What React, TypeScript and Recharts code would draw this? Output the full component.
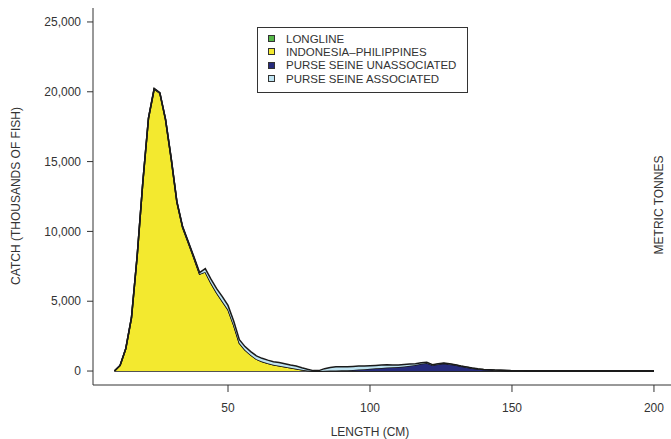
import { Area, AreaChart, Label, XAxis, YAxis } from 'recharts';

// length bins (cm)
const lengths = [
  10, 12, 14, 16, 18, 20, 22, 24, 26, 28,
  30, 32, 34, 36, 38, 40, 42, 44, 46, 48,
  50, 52, 54, 56, 58, 60, 62, 64, 66, 68,
  70, 72, 74, 76, 78, 80, 82, 84, 86, 88,
  90, 92, 94, 96, 98, 100, 102, 104, 106, 108,
  110, 112, 114, 116, 118, 120, 122, 124, 126, 128,
  130, 132, 134, 136, 138, 140, 142, 144, 146, 148,
  150, 152, 154, 156, 158, 160, 162, 164, 166, 168,
  170, 172, 174, 176, 178, 180, 182, 184, 186, 188,
  190, 192, 194, 196, 198, 200,
];

// catch in thousands of fish
const longline = [
  0, 0, 0, 0, 0, 0, 0, 0, 0, 0,
  0, 0, 0, 0, 0, 0, 0, 0, 0, 0,
  0, 0, 0, 0, 0, 0, 0, 0, 0, 0,
  0, 0, 0, 0, 0, 0, 0, 0, 0, 0,
  2, 2, 3, 3, 3, 4, 4, 5, 5, 5,
  6, 6, 6, 7, 7, 7, 8, 8, 8, 8,
  8, 8, 8, 7, 7, 6, 6, 5, 5, 5,
  4, 4, 4, 3, 3, 3, 2, 2, 2, 2,
  2, 1, 1, 1, 1, 1, 1, 0, 0, 0,
  0, 0, 0, 0, 0, 0,
];

const indoPhil = [
  0, 400, 1600, 3800, 8200, 13500, 18100, 20200, 19900, 18000,
  15200, 12100, 10300, 9200, 8100, 6950, 7100, 6300, 5600, 5000,
  4400, 3300, 2000, 1500, 1150, 850, 680, 550, 450, 380,
  300, 230, 160, 90, 30, 0, 0, 0, 0, 0,
  0, 0, 0, 0, 0, 0, 0, 0, 0, 0,
  0, 0, 0, 0, 0, 0, 0, 0, 0, 0,
  0, 0, 0, 0, 0, 0, 0, 0, 0, 0,
  0, 0, 0, 0, 0, 0, 0, 0, 0, 0,
  0, 0, 0, 0, 0, 0, 0, 0, 0, 0,
  0, 0, 0, 0, 0, 0,
];

const psUnassoc = [
  0, 0, 0, 0, 0, 0, 0, 0, 0, 0,
  0, 0, 0, 0, 0, 0, 0, 0, 0, 0,
  0, 0, 0, 0, 0, 0, 0, 0, 0, 0,
  0, 0, 0, 0, 0, 0, 10, 20, 30, 40,
  50, 60, 80, 100, 130, 160, 190, 220, 250, 260,
  280, 320, 370, 430, 520, 570, 410, 480, 530, 480,
  420, 340, 270, 190, 130, 100, 80, 60, 50, 30,
  20, 15, 10, 8, 5, 4, 3, 2, 2, 1,
  1, 1, 0, 0, 0, 0, 0, 0, 0, 0,
  0, 0, 0, 0, 0, 0,
];

const psAssoc = [
  0, 0, 10, 20, 30, 40, 40, 40, 40, 40,
  50, 50, 60, 70, 80, 100, 240, 280, 300, 330,
  300, 280, 250, 250, 240, 240, 230, 230, 220, 230,
  220, 200, 200, 150, 100, 30, 20, 150, 230, 260,
  260, 250, 250, 250, 230, 220, 210, 200, 190, 170,
  150, 140, 120, 90, 60, 50, 40, 40, 30, 30,
  30, 20, 20, 20, 20, 10, 10, 10, 10, 5,
  5, 0, 0, 0, 0, 0, 0, 0, 0, 0,
  0, 0, 0, 0, 0, 0, 0, 0, 0, 0,
  0, 0, 0, 0, 0, 0,
];

const xTicks = [50, 100, 150, 200];
const yTicks = [0, 5000, 10000, 15000, 20000, 25000];

const series = [
  { key: 'longline', label: 'LONGLINE', color: '#55b848' },
  { key: 'indoPhil', label: 'INDONESIA\u2013PHILIPPINES', color: '#f3e92f' },
  { key: 'psUnassoc', label: 'PURSE SEINE UNASSOCIATED', color: '#262b7c' },
  { key: 'psAssoc', label: 'PURSE SEINE ASSOCIATED', color: '#bfe4f2' },
];

const data = lengths.map((len, i) => ({
  len,
  longline: longline[i],
  indoPhil: indoPhil[i],
  psUnassoc: psUnassoc[i],
  psAssoc: psAssoc[i],
}));

const FONT = '"Liberation Sans", Arial, Helvetica, sans-serif';
const INK = '#333';

export default function App() {
  return (
    <div
      style={{
        position: 'absolute',
        left: 0,
        top: 0,
        width: 671,
        height: 439,
        background: '#fff',
        fontFamily: FONT,
      }}
    >
      <AreaChart
        width={671}
        height={439}
        data={data}
        margin={{ top: 8, right: 0, bottom: 0, left: 0 }}
      >
        <XAxis
          type="number"
          dataKey="len"
          domain={[2.46, 206]}
          ticks={xTicks}
          allowDataOverflow
          height={54}
          tickSize={7}
          tickMargin={11}
          stroke={INK}
          tick={{ fontSize: 12, fill: INK, fontFamily: FONT }}
        >
          <Label
            content={() => (
              <text
                x={370}
                y={436}
                textAnchor="middle"
                fontSize={12}
                fill={INK}
                fontFamily={FONT}
              >
                LENGTH (CM)
              </text>
            )}
          />
        </XAxis>
        <YAxis
          type="number"
          domain={[-1000, 26000]}
          ticks={yTicks}
          allowDataOverflow
          width={93}
          tickSize={6}
          tickMargin={6}
          stroke={INK}
          tick={{ fontSize: 12, fill: INK, fontFamily: FONT }}
          tickFormatter={(v: number) => v.toLocaleString('en-US')}
        >
          <Label
            content={() => (
              <text
                transform="translate(20,196) rotate(-90)"
                textAnchor="middle"
                fontSize={12}
                fill={INK}
                fontFamily={FONT}
              >
                CATCH (THOUSANDS OF FISH)
              </text>
            )}
          />
        </YAxis>
        {series.map((s) => (
          <Area
            key={s.key}
            type="linear"
            dataKey={s.key}
            stackId="catch"
            fill={s.color}
            fillOpacity={1}
            stroke="#1a1a1a"
            strokeWidth={1.5}
            dot={false}
            activeDot={false}
            isAnimationActive={false}
          />
        ))}
      </AreaChart>

      <svg
        width={671}
        height={439}
        style={{ position: 'absolute', left: 0, top: 0, pointerEvents: 'none' }}
      >
        <text
          transform="translate(663,205) rotate(-90)"
          textAnchor="middle"
          fontSize={12}
          fill={INK}
          fontFamily={FONT}
        >
          METRIC TONNES
        </text>
      </svg>

      <div
        style={{
          position: 'absolute',
          left: 257,
          top: 27,
          width: 211,
          height: 66,
          boxSizing: 'border-box',
          border: `1px solid ${INK}`,
          background: '#fff',
          padding: '4px 0 0 10px',
          fontSize: 11.5,
          color: INK,
        }}
      >
        {series.map((s) => (
          <div
            key={s.key}
            style={{ display: 'flex', alignItems: 'center', height: 13.3, whiteSpace: 'nowrap' }}
          >
            <span
              style={{
                display: 'inline-block',
                width: 7,
                height: 7,
                boxSizing: 'border-box',
                border: `1px solid ${INK}`,
                background: s.color,
                marginRight: 11,
              }}
            />
            {s.label}
          </div>
        ))}
      </div>
    </div>
  );
}
